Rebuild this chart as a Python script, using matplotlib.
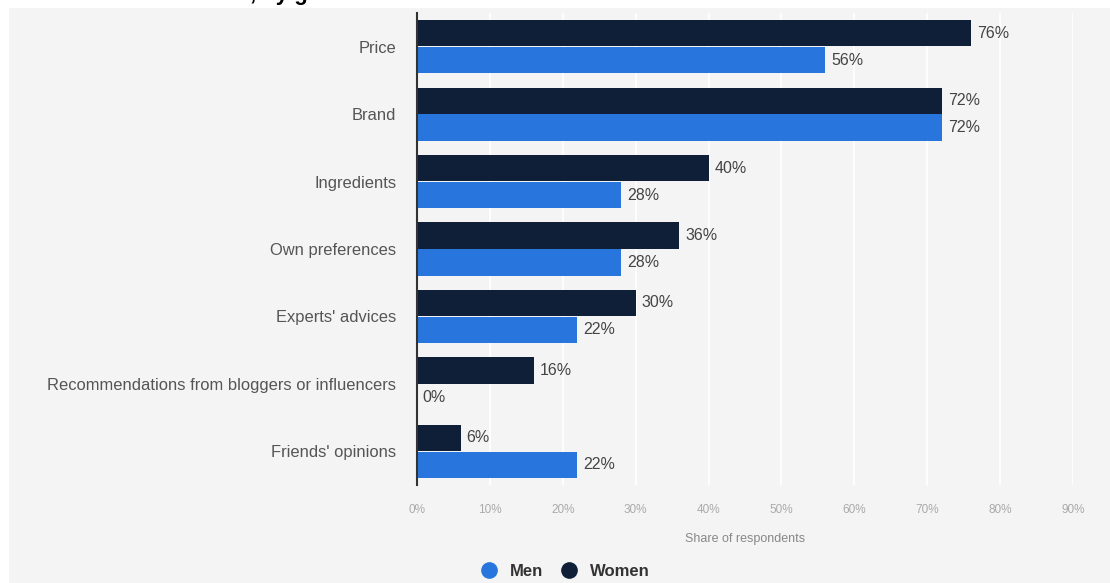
import matplotlib
matplotlib.use("Agg")
import matplotlib.pyplot as plt
from matplotlib.lines import Line2D
from matplotlib.patches import Rectangle
import numpy as np

categories = ["Price", "Brand", "Ingredients", "Own preferences", "Experts' advices",
              "Recommendations from bloggers or influencers", "Friends' opinions"]
women = [76, 72, 40, 36, 30, 16, 6]
men = [56, 72, 28, 28, 22, 0, 22]
xticks = [0, 10, 20, 30, 40, 50, 60, 70, 80, 90]
xtick_labels = [f"{t}%" for t in xticks]

C_WOMEN = "#0f1f38"
C_MEN = "#2876dd"
BG = "#f4f4f4"

plt.rcParams['font.family'] = ['Liberation Sans', 'DejaVu Sans']

fig = plt.figure(figsize=(11.1, 5.83), dpi=100)
fig.patch.set_facecolor("white")
# light gray panel background
fig.patches.append(Rectangle((9/1110, 0), 1 - 9/1110, 1 - 8/583, transform=fig.transFigure,
                             facecolor=BG, edgecolor="none", zorder=-10))

# partially visible title (cut off at the top edge, as in the reference)
fig.text(250/1110, 1.0, ", by gender", fontsize=16, fontweight="bold", color="black",
         va="baseline", ha="left")

ax = fig.add_axes([417/1110, 1 - 485/583, (1073 - 417)/1110, (485 - 13)/583])
ax.set_facecolor("none")

y = np.arange(len(categories))
h = 0.39
off = 0.2
ax.barh(y - off, women, height=h, color=C_WOMEN, zorder=3)
ax.barh(y + off, men, height=h, color=C_MEN, zorder=3)

for yi, v in zip(y, women):
    ax.text(v + 0.8, yi - off, f"{v}%", va="center", ha="left", fontsize=11.5, color="#444444")
for yi, v in zip(y, men):
    ax.text(v + 0.8, yi + off, f"{v}%", va="center", ha="left", fontsize=11.5, color="#444444")

ax.set_xlim(0, 90)
ax.set_ylim(len(categories) - 0.5, -0.5)
ax.set_yticks(y)
ax.set_yticklabels(categories, fontsize=11.9, color="#555555")
ax.set_xticks(xticks)
ax.set_xticklabels(xtick_labels, fontsize=8.5, color="#aaaaaa")
ax.tick_params(axis="y", length=0, pad=15)
ax.tick_params(axis="x", length=0, pad=14)
ax.grid(axis="x", color="white", linewidth=1.2, zorder=0)
ax.set_axisbelow(True)
for s in ["top", "right", "bottom"]:
    ax.spines[s].set_visible(False)
ax.spines["left"].set_color("#333333")
ax.spines["left"].set_linewidth(1.5)
ax.spines["left"].set_zorder(4)

ax.set_xlabel("Share of respondents", fontsize=9, color="#888888", labelpad=12)

handles = [Line2D([0], [0], marker="o", linestyle="none", markersize=11,
                  markerfacecolor=C_MEN, markeredgecolor=C_MEN, label="Men"),
           Line2D([0], [0], marker="o", linestyle="none", markersize=11,
                  markerfacecolor=C_WOMEN, markeredgecolor=C_WOMEN, label="Women")]
leg = fig.legend(handles=handles, loc="center", bbox_to_anchor=(561/1110, 1 - 571/583),
                 ncol=2, frameon=False, handletextpad=0.3, columnspacing=0.5,
                 prop={"weight": "bold", "size": 12})
for t in leg.get_texts():
    t.set_color("#333333")

fig.savefig("out.png", dpi=100, facecolor=fig.get_facecolor())
